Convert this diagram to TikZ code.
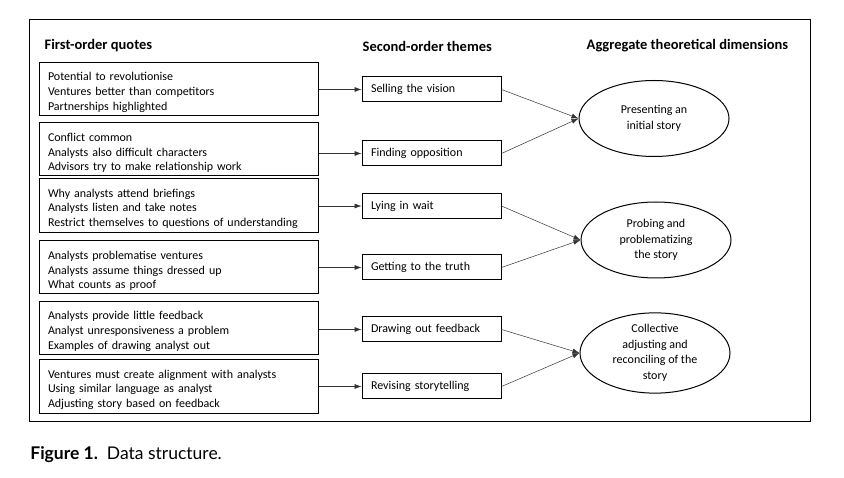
\documentclass[tikz,border=0pt]{standalone}
\usepackage{fontspec}
\setmainfont{Carlito}
\newfontfamily\capfont{Lato}
\usetikzlibrary{arrows.meta,shapes.geometric,positioning}
\tikzset{every picture/.style={line width=0.75pt}}
\tikzset{
  quote/.style={draw, line width=1pt, minimum width=279pt, minimum height=51pt,
    text width=261pt, inner xsep=9pt, align=left, font=\fontsize{12}{14.7}\selectfont,
    execute at begin node=\rule{0pt}{15pt}},
  theme/.style={draw, line width=1pt, minimum width=139pt, minimum height=25pt,
    text width=121pt, inner xsep=9pt, align=left, font=\fontsize{12}{14.7}\selectfont},
  dimension/.style={draw, ellipse, line width=1pt, inner sep=0pt, minimum width=150pt,
    minimum height=76pt, align=center, font=\fontsize{12}{15.5}\selectfont},
  head/.style={anchor=west, font=\bfseries\fontsize{14.5}{16}\selectfont},
  link/.style={-{Latex[length=7pt,width=5pt]}, line width=0.5pt, draw=black!80}
}

\begin{document}
\begin{tikzpicture}[x=1pt,y=-1pt]
    \useasboundingbox (0,0) rectangle (844,478);
    % frame
    \draw[line width=1pt] (29,20) rectangle (810,422);
    % column heads
    \node[head] (h1) at (41,46) {First-order quotes};
    \node[head] (h2) at (359,46) {Second-order themes};
    \node[head] (h3) at (583,46) {Aggregate theoretical dimensions};
    % first-order quotes
    \node[quote] (q1) at (178.5,89) {Potential to revolutionise\\Ventures better than competitors\\Partnerships highlighted};
    \node[quote] (q2) at (178.5,149.5) {Conflict common\\Analysts also difficult characters\\Advisors try to make relationship work};
    \node[quote] (q3) at (178.5,205.5) {Why analysts attend briefings\\Analysts listen and take notes\\Restrict themselves to questions of understanding};
    \node[quote] (q4) at (178.5,267.5) {Analysts problematise ventures\\Analysts assume things dressed up\\What counts as proof};
    \node[quote] (q5) at (178.5,328) {Analysts provide little feedback\\Analyst unresponsiveness a problem\\Examples of drawing analyst out};
    \node[quote] (q6) at (178.5,386.5) {Ventures must create alignment with analysts\\Using similar language as analyst\\Adjusting story based on feedback};
    % second-order themes
    \node[theme] (t1) at (431.5,89.5) {Selling the vision};
    \node[theme] (t2) at (431.5,153.5) {Finding opposition};
    \node[theme] (t3) at (431.5,206) {Lying in wait};
    \node[theme] (t4) at (431.5,267.5) {Getting to the truth};
    \node[theme] (t5) at (431.5,329.5) {Drawing out feedback};
    \node[theme] (t6) at (431.5,386.5) {Revising storytelling};
    % aggregate dimensions
    \node[dimension] (d1) at (654,118.5) {Presenting an\\initial story};
    \node[dimension] (d2) at (656,240) {Probing and\\problematizing\\the story};
    \node[dimension] (d3) at (655,353) {Collective\\adjusting and\\reconciling of the\\story};
    % links
    \foreach \i in {1,...,6}
        \draw[link] (q\i.east |- t\i) -- (t\i.west);
    \draw[link] (t1.east) -- (d1.west);
    \draw[link] (t2.east) -- (d1.west);
    \draw[link] (t3.east) -- (d2.west);
    \draw[link] (t4.east) -- (d2.west);
    \draw[link] (t5.east) -- (d3.west);
    \draw[link] (t6.east) -- (d3.west);
    % caption
    \node[anchor=base west, inner sep=0pt, font=\capfont\fontsize{17.5}{19}\selectfont] (cap) at (30,460)
        {\textbf{Figure 1.}\ \ Data structure.};
\end{tikzpicture}
\end{document}
